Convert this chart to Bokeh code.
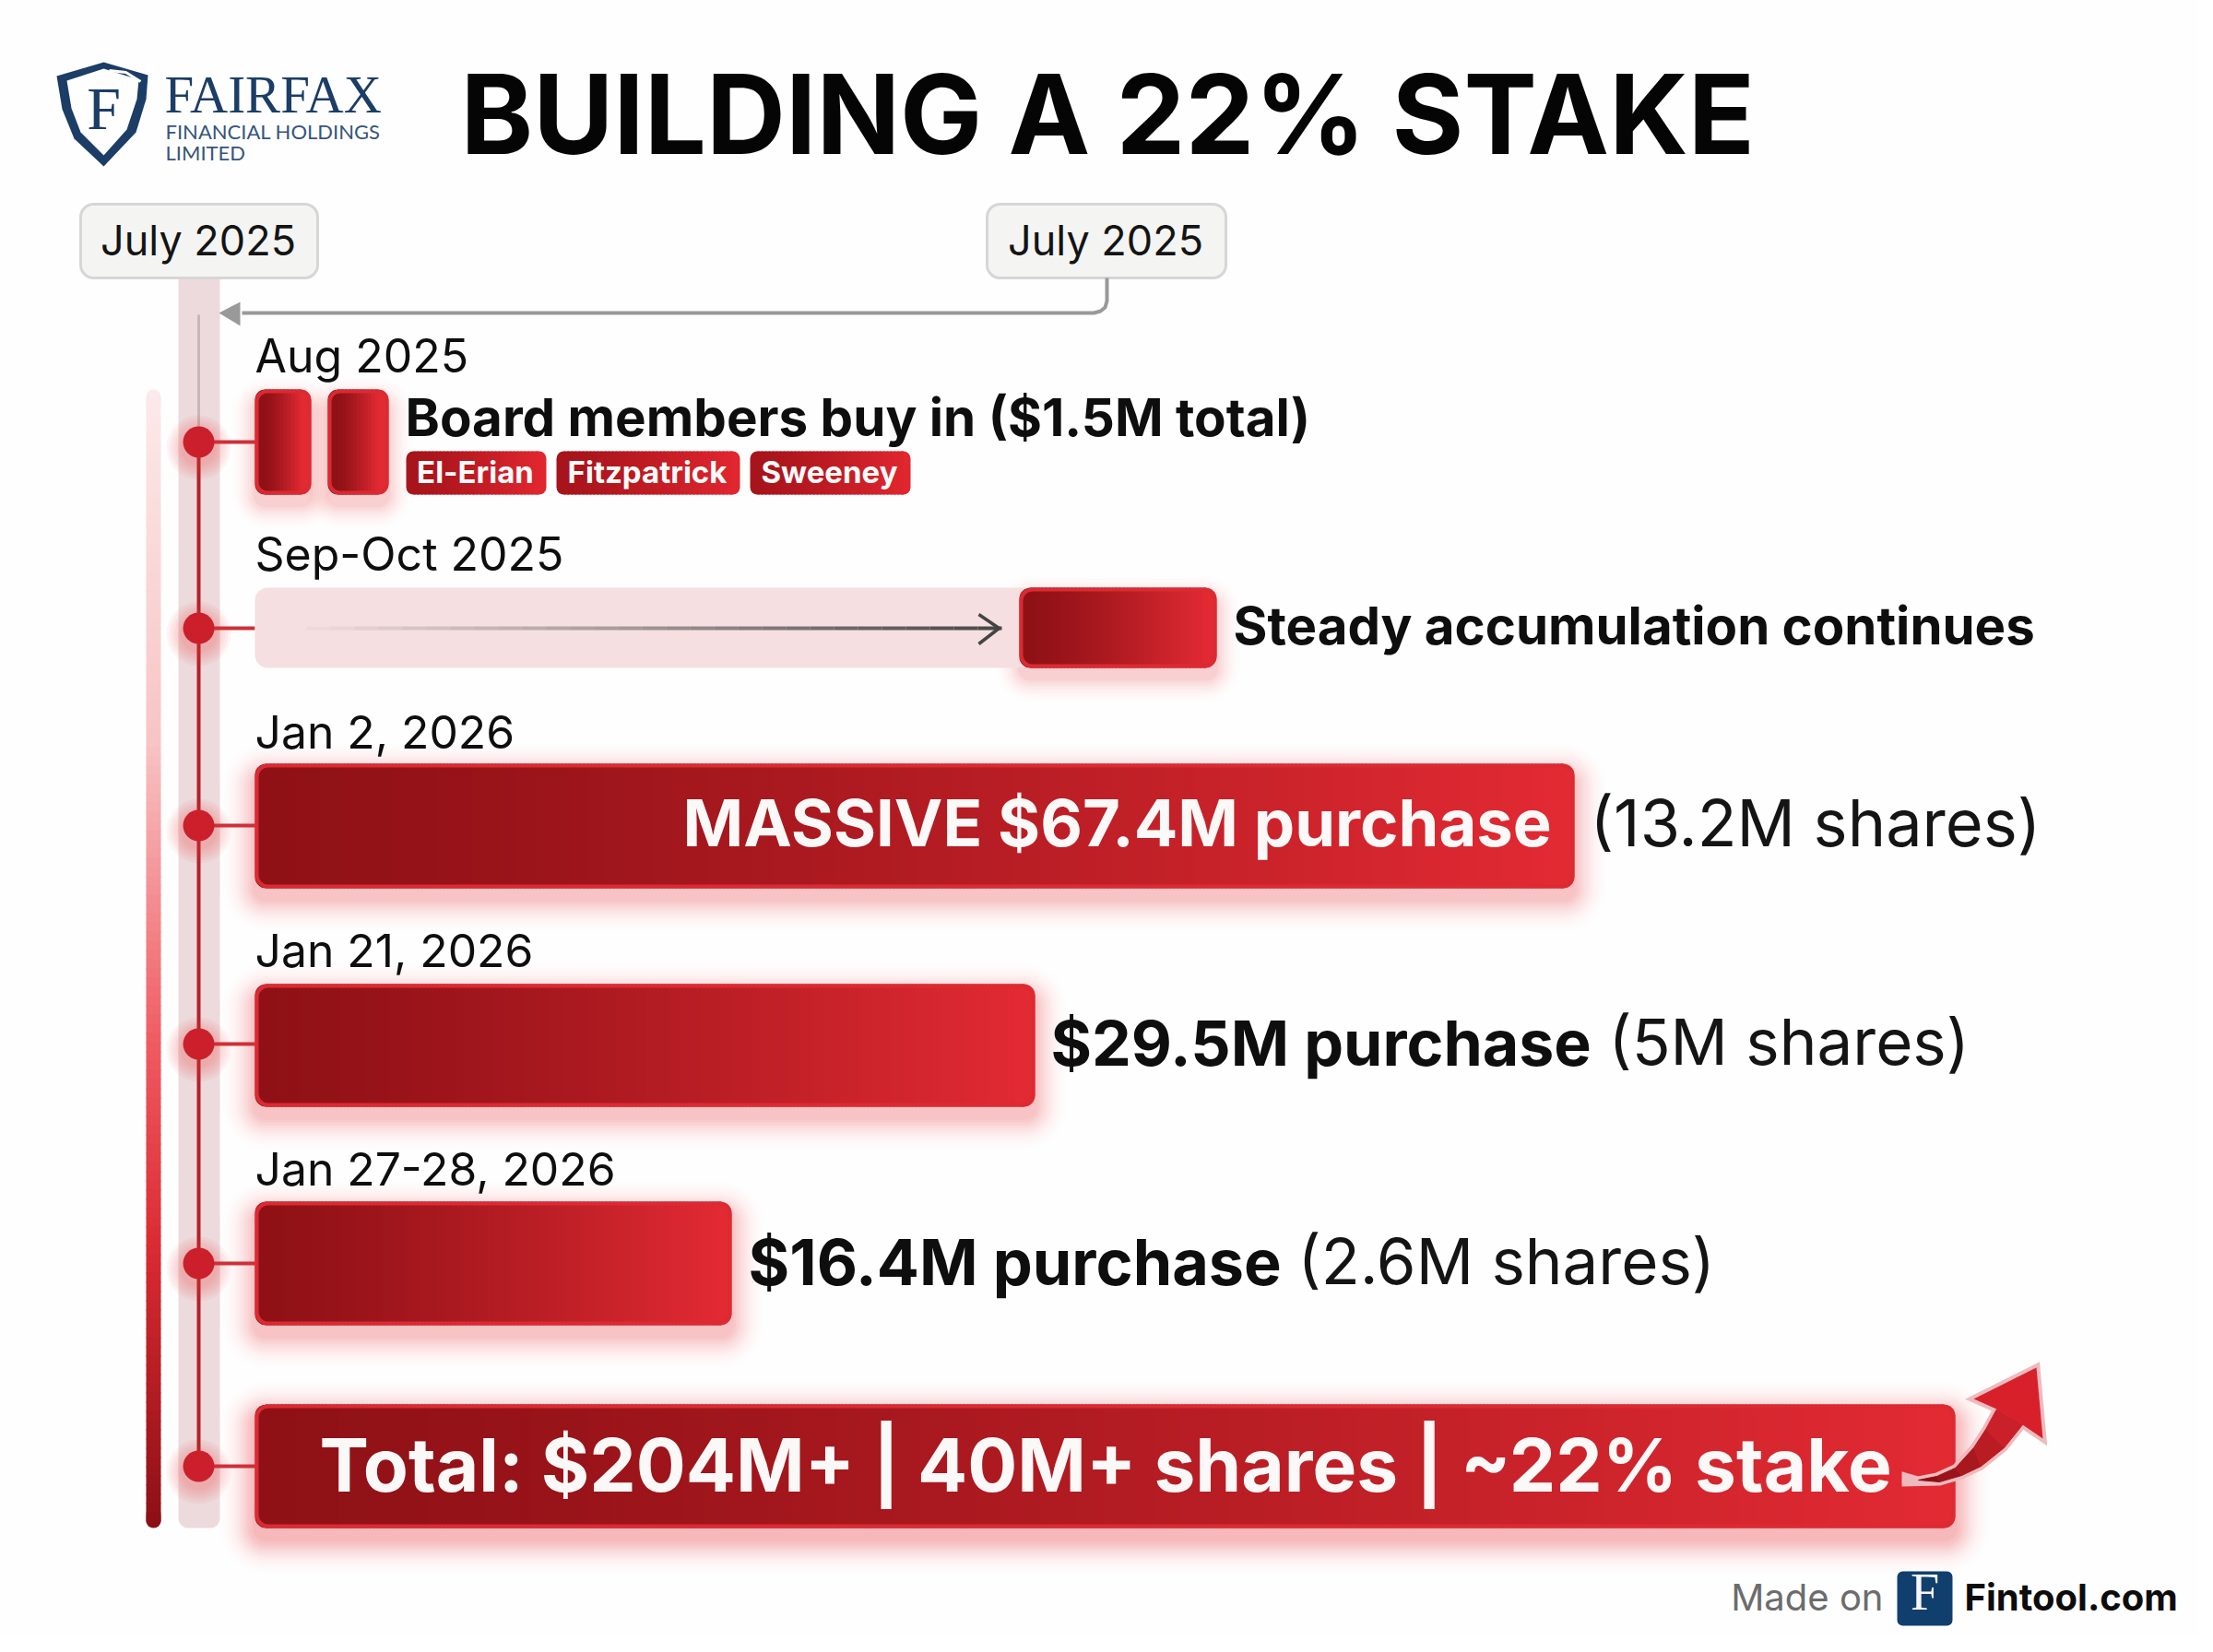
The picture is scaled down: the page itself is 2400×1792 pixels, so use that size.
from bokeh.core.properties import value
from bokeh.embed import file_html
from bokeh.models import Range1d
from bokeh.plotting import figure
from bokeh.resources import INLINE

# ---- chart content ----
title = "BUILDING A 22% STAKE"
endpoint_labels = ["July 2025", "July 2025"]
date_labels = ["Aug 2025", "Sep-Oct 2025", "Jan 2, 2026", "Jan 21, 2026", "Jan 27-28, 2026"]
board_names = ["El-Erian", "Fitzpatrick", "Sweeney"]
board_bar_lengths = [61, 66]
steady_track_length = 829
steady_block_length = 214
purchase_bar_lengths = [1431, 846, 517]
total_bar_length = 1844
purchase_bold = ["MASSIVE $67.4M purchase", "$29.5M purchase", "$16.4M purchase"]
purchase_plain = ["(13.2M shares)", "(5M shares)", "(2.6M shares)"]
board_label = "Board members buy in ($1.5M total)"
steady_label = "Steady accumulation continues"
total_label = "Total: $204M+ | 40M+ shares | ~22% stake"

# ---- layout, in page pixels ----
W, H = 2384, 1776
BAR_X = 276
SPINE_X = 215
DOT_Y = [479, 681, 895, 1132, 1370, 1590]
DATE_Y = [403, 618, 811, 1048, 1285]
PURCHASE_ROWS = [(828, 963), (1067, 1200), (1303, 1437)]
DARK, BRIGHT = "#8f1116", "#e22a33"
INK = "#0e0e0e"
# the text glyph sits below the y it is given, by this share of its size
BASE_FIX = {"Inter": 0.35, "Lato": 0.35, "Liberation Serif": 0.42}

p = figure(width=W, height=H, output_backend="svg", toolbar_location=None,
           x_range=Range1d(0, W), y_range=Range1d(H, 0),
           min_border=0, background_fill_color="#fefefe", border_fill_color="#fefefe",
           outline_line_color=None)
p.axis.visible = False
p.grid.visible = False


def mix(c0, c1, t):
    a = [int(c0[i:i + 2], 16) for i in (1, 3, 5)]
    b = [int(c1[i:i + 2], 16) for i in (1, 3, 5)]
    return "#%02x%02x%02x" % tuple(round(u + (v - u) * t) for u, v in zip(a, b))


def glow(left, right, top, bottom, radius=12, reach=36, drop=12, alpha=0.05, color="#e8323c"):
    # stacked see-through boxes, thinner further out, stand in for a blurred shadow
    for e in range(2, reach + 1, 3):
        p.quad(left=left - e, right=right + e, top=top - e + drop, bottom=bottom + e + drop,
               border_radius=radius + e, fill_color=color, fill_alpha=alpha * (1 - e / (reach + 2)),
               line_color=None)


def gradient_bar(left, right, top, bottom, radius=12, c0=DARK, c1=BRIGHT, border="#dc2a32", lw=4):
    p.quad(left=left, right=left + 2 * radius, top=top, bottom=bottom,
           border_radius=radius, fill_color=c0, line_color=None)
    p.quad(left=right - 2 * radius, right=right, top=top, bottom=bottom,
           border_radius=radius, fill_color=c1, line_color=None)
    # whole-pixel strips, each running under the next one, so no seams show
    edges = list(range(left + radius, right - radius, 4)) + [right - radius]
    lefts = edges[:-1]
    rights = [min(x + 2, right - radius) for x in edges[1:]]
    n = len(lefts)
    colors = [mix(c0, c1, ((i + 0.5) / n) ** 1.25) for i in range(n)]
    p.quad(left=lefts, right=rights, top=top, bottom=bottom, fill_color=colors, line_color=None)
    if border:
        p.quad(left=left + lw / 2, right=right - lw / 2, top=top + lw / 2, bottom=bottom - lw / 2,
               border_radius=radius, fill_color=None, line_color=border, line_width=lw)


def label(x, y, s, size, color=INK, style="normal", font="Inter", align="left"):
    p.text(x=[x], y=[y - BASE_FIX[font] * size], text=[s], text_font=value(font),
           text_font_size=f"{size}px", text_font_style=style, text_color=color,
           text_align=align, text_baseline="alphabetic")


# ---- logo ----
NAVY = "#1b3d66"
p.patch([61, 112, 160, 158, 147, 112, 80, 67],
        [82, 67, 81, 107, 143, 180, 150, 118], fill_color=NAVY, line_color=None)
p.patch([72, 112, 150, 148, 137, 112, 87, 77],
        [87, 74, 86, 107, 140, 168, 143, 117], fill_color="#fefefe", line_color=None)
p.line([118, 136, 152], [76, 78, 88], line_color="#fefefe", line_width=3)
label(112, 145, "F", 66, NAVY, font="Liberation Serif", align="center")
label(178, 126, "FAIRFAX", 57, NAVY, font="Liberation Serif")
label(179, 150, "FINANCIAL HOLDINGS", 22, "#37557c", font="Lato")
label(179, 173, "LIMITED", 22, "#37557c", font="Lato")

label(499, 165, title, 119, "#050505", "bold")

# ---- left rail and pale column ----
rail_stops = [(422, "#fbeaea"), (800, "#f8c4c4"), (1130, "#ef5a60"), (1350, "#da2a32"), (1657, "#8a0f14")]
p.quad(left=158, right=174, top=422, bottom=444, border_radius=8, fill_color=rail_stops[0][1], line_color=None)
p.quad(left=158, right=174, top=1635, bottom=1657, border_radius=8, fill_color=rail_stops[-1][1], line_color=None)
tops = list(range(430, 1650, 10))
rail_colors = []
for y in tops:
    for (y0, c0), (y1, c1) in zip(rail_stops, rail_stops[1:]):
        if y0 <= y <= y1:
            rail_colors.append(mix(c0, c1, (y - y0) / (y1 - y0)))
            break
p.quad(left=158, right=174, top=tops, bottom=[y + 11 for y in tops], fill_color=rail_colors, line_color=None)

p.quad(left=193, right=238, top=290, bottom=1657, border_radius=10, fill_color="#eddadc", line_color=None)
p.line([SPINE_X, SPINE_X], [341, DOT_Y[0]], line_color="#c9b6b8", line_width=3)
p.line([SPINE_X, SPINE_X], [DOT_Y[0], DOT_Y[-1]], line_color="#b0222a", line_width=4)

# ---- header boxes and return arrow ----
for x0, x1, s in zip([87, 1070], [344, 1329], endpoint_labels):
    p.quad(left=x0, right=x1, top=221, bottom=301, border_radius=14,
           fill_color="#f4f4f3", line_color="#d6d6d6", line_width=3)
    label((x0 + x1) / 2 - 1, 276, s, 45, "#141414", align="center")
p.line([1200, 1200, 1198, 1193, 1186, 262], [301, 326, 333, 337, 339, 339], line_color="#999999", line_width=4)
p.patch([237, 260, 260], [339, 327, 353], fill_color="#999999", line_color=None)

# ---- bars' glows first so that they stay underneath ----
board_lefts = [BAR_X, 355]
board_rights = [x + w for x, w in zip(board_lefts, board_bar_lengths)]
for x0, x1 in zip(board_lefts, board_rights):
    glow(x0, x1, 422, 536, reach=26)
glow(BAR_X + steady_track_length, BAR_X + steady_track_length + steady_block_length, 637, 724, reach=26)
for (y0, y1), w in zip(PURCHASE_ROWS, purchase_bar_lengths):
    glow(BAR_X, BAR_X + w, y0, y1)
glow(BAR_X, BAR_X + total_bar_length, 1523, 1657, alpha=0.056, reach=40)
for y in DOT_Y:
    for size in range(40, 76, 6):
        p.scatter([SPINE_X], [y + 6], size=size, fill_color="#e8323c", fill_alpha=0.05, line_color=None)

# ---- spine dots and stubs ----
p.segment(x0=[SPINE_X] * 6, y0=DOT_Y, x1=[BAR_X] * 6, y1=DOT_Y, line_color="#cf2f38", line_width=4)
p.scatter([SPINE_X] * 6, DOT_Y, size=34, fill_color="#cb202b", line_color=None)

# ---- Aug 2025 ----
label(276, DATE_Y[0], date_labels[0], 50)
for x0, x1 in zip(board_lefts, board_rights):
    gradient_bar(x0, x1, 422, 536, radius=11)
label(439, 472, board_label, 56.5, INK, "bold")
tag_left, tag_right = [440, 603, 813], [592, 802, 987]
for x0, x1, s in zip(tag_left, tag_right, board_names):
    gradient_bar(x0, x1, 489, 536, radius=8, c0="#a8141b", c1="#e0262f", border=None)
    label((x0 + x1) / 2 - 1, 523, s, 33, "#fbfbfb", "bold", align="center")

# ---- Sep-Oct 2025 ----
label(276, DATE_Y[1], date_labels[1], 50)
p.quad(left=BAR_X, right=BAR_X + steady_track_length + 14, top=637, bottom=724, border_radius=14,
       fill_color="#f5dfe0", line_color=None)
xs = list(range(306, 1084, 26))
p.multi_line([[x, x + 26] for x in xs], [[681, 681] for _ in xs], line_color="#444444",
             line_alpha=[i / len(xs) for i in range(len(xs))], line_width=4)
p.line([1061, 1083, 1061], [666, 681, 698], line_color="#444444", line_width=3.5)
gradient_bar(BAR_X + steady_track_length, BAR_X + steady_track_length + steady_block_length, 637, 724)
label(1337, 698, steady_label, 56.4, INK, "bold")

# ---- purchases ----
bold_x = [740, 1139, 811]
plain_x = [1724, 1744, 1407]
base_y = [917, 1154, 1392]
bold_sizes = [70.5, 68, 68.3]
plain_sizes = [70.2, 69, 69]
for i, ((y0, y1), w) in enumerate(zip(PURCHASE_ROWS, purchase_bar_lengths)):
    label(276, DATE_Y[i + 2], date_labels[i + 2], 49.8)
    gradient_bar(BAR_X, BAR_X + w, y0, y1)
    label(bold_x[i], base_y[i], purchase_bold[i], bold_sizes[i], "#fbf8f8" if i == 0 else INK, "bold")
    label(plain_x[i], base_y[i], purchase_plain[i], plain_sizes[i], "#141414")

# ---- total ----
gradient_bar(BAR_X, BAR_X + total_bar_length, 1523, 1657)
label(346, 1616, total_label, 80.2, "#fbf8f8", "bold")

# growth arrow
upper = [(2080, 1605), (2100, 1601), (2120, 1592), (2140, 1570), (2153, 1550), (2165, 1528)]
lower = [(2080, 1605), (2103, 1607), (2127, 1600), (2148, 1590), (2173, 1570), (2193, 1545)]
head = [(2165, 1528), (2140, 1517), (2208, 1483), (2215, 1560), (2193, 1545)]
outline = [(2066, 1601), (2080, 1605)] + upper[1:] + head[1:4] + lower[::-1][:-1] + [(2066, 1608)]
p.patch([q[0] for q in outline], [q[1] for q in outline], fill_color="#efbabd", line_color="#efbabd",
        line_width=8, line_join="miter")
for i in range(len(upper) - 1):
    p.patch([upper[i][0], upper[i + 1][0], lower[i + 1][0], lower[i][0]],
            [upper[i][1], upper[i + 1][1], lower[i + 1][1], lower[i][1]],
            fill_color=mix("#8c0f14", "#c9202a", i / 4), line_color=mix("#8c0f14", "#c9202a", i / 4), line_width=1)
p.patch([q[0] for q in head], [q[1] for q in head], fill_color="#d8202a", line_color=None)

# ---- footer ----
label(2042, 1746, "Made on", 40, "#6c6c6c", align="right")
p.quad(left=2057, right=2117, top=1704, bottom=1763, border_radius=6, fill_color="#113f6d", line_color=None)
label(2087, 1750, "F", 56, "#f6f6f6", font="Liberation Serif", align="center")
label(2130, 1746, "Fintool.com", 40, "#0c0c0c", "bold")

open("out.html", "w").write(file_html(p, INLINE))
